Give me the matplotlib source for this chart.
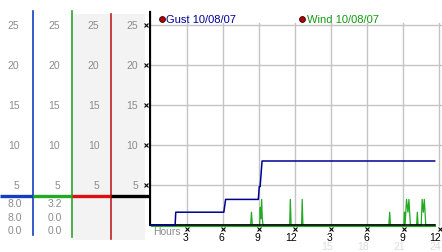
import matplotlib
matplotlib.use("Agg")
import matplotlib.pyplot as plt
from matplotlib.patches import Rectangle

# ---------------- data ----------------
gust_hours = [0, 2.05, 2.1, 6.1, 6.25, 8.97, 9.05, 9.12, 9.2, 9.28, 23.64]
gust_vals = [0, 0, 1.6, 1.6, 3.2, 3.2, 4.8, 4.8, 6.4, 8.0, 8.0]

wind_hours = [0, 8.33, 8.4, 8.47,
              9.08, 9.13, 9.18, 9.25, 9.3, 9.36,
              11.58, 11.63, 11.7, 12.57, 12.62, 12.68,
              19.83, 19.9, 19.96,
              21.08, 21.13, 21.18, 21.3, 21.42, 21.5, 21.62,
              22.14, 22.2, 22.26, 22.52, 22.6, 22.7, 22.78, 22.9, 23.64]
wind_vals = [0, 0, 1.6, 0,
             0, 2.2, 0.8, 3.2, 0.8, 0,
             0, 3.2, 0, 0, 3.2, 0,
             0, 1.6, 0,
             0, 1.6, 0, 3.2, 1.6, 3.2, 0,
             0, 1.6, 0, 0, 3.2, 1.6, 3.2, 0, 0]

y_ticks = [5, 10, 15, 20, 25]
x_ticks = [3, 6, 9, 12, 15, 18, 21, 24]
x_tick_labels = ["3", "6", "9", "12", "3", "6", "9", "12"]
x_faint_ticks = [15, 18, 21, 24]
x_faint_labels = ["15", "18", "21", "24"]

gust_legend = "Gust 10/08/07"
wind_legend = "Wind 10/08/07"
gust_stats = ["8.0", "8.0", "0.0"]
wind_stats = ["3.2", "0.0", "0.0"]

# ---------------- figure ----------------
W, H = 442, 253
fig = plt.figure(figsize=(W / 100, H / 100), dpi=100)
fig.patch.set_facecolor("white")
FONT = "Liberation Sans"

# value v <-> pixel row p : v = (226 - p) / 8
ylo, yhi = (226 - 253) / 8, 226 / 8
grid_c = "#c4c4c4"
lab_c = "#8c8c8c"

# ---------- main plot axes ----------
x0h = (149 - 150.5) / 12.02
x1h = (442 - 150.5) / 12.02
ax = fig.add_axes([149 / W, 0, (W - 149) / W, 1])
ax.set_xlim(x0h, x1h)
ax.set_ylim(ylo, yhi)
ax.axis("off")

for yv in y_ticks:
    ax.plot([0, x1h], [yv, yv], color=grid_c, lw=1, zorder=1)
for xv in x_ticks:
    ax.plot([xv, xv], [0, 25.3], color=grid_c, lw=1, zorder=1)

# left black axis line
ax.plot([x0h + 0.05, x0h + 0.05], [0, (226 - 13) / 8], color="black", lw=1.6, zorder=3)

ax.plot(wind_hours, wind_vals, color="#22aa22", lw=0.9, zorder=4)
ax.plot([0, 23.64], [0.02, 0.02], color="black", lw=1.2, zorder=4)
ax.plot([0, 23.64], [-0.15, -0.15], color="#22aa22", lw=0.8, zorder=4)
ax.plot(gust_hours, gust_vals, color="#000090", lw=1.1, zorder=5)

# x tick marks and labels
for xv, lab in zip(x_ticks, x_tick_labels):
    ax.plot([xv + 0.05], [-0.45], marker="x", ms=2.2, mew=0.8, color="black", clip_on=False)
    ax.text(xv + 0.17, -1.5, lab, ha="right", va="center", fontsize=7.5,
            family=FONT, color="black")
for xv, lab in zip(x_faint_ticks, x_faint_labels):
    ax.text(xv + 0.2, -2.6, lab, ha="right", va="center", fontsize=7.5,
            family=FONT, color="#dcdcdc")
ax.text(0.2, -0.8, "Hours", ha="left", va="center", fontsize=7.5,
        family=FONT, color=lab_c)

# legend
ax.plot([0.97], [25.75], marker="o", ms=4.2, mfc="#b00000", mec="#300000", mew=0.6)
ax.text(1.3, 25.75, gust_legend, ha="left", va="center", fontsize=8,
        family=FONT, color="#000099")
ax.plot([12.62], [25.75], marker="o", ms=4.2, mfc="#b00000", mec="#300000", mew=0.6)
ax.text(13.0, 25.75, wind_legend, ha="left", va="center", fontsize=8,
        family=FONT, color="#119911")

# ---------- left panels ----------
lax = fig.add_axes([0, 0, 149 / W, 1])
lax.set_xlim(0, 149)
lax.set_ylim(ylo, yhi)
lax.axis("off")

lax.add_patch(Rectangle((72, (226 - 241) / 8), 73, (241 - 15) / 8,
                        facecolor="#f3f3f3", edgecolor="none", zorder=0))

col_right = [19.5, 60, 99.5, 138]
for xr in col_right:
    for yv in y_ticks:
        lax.text(xr, yv, str(yv), ha="right", va="center", fontsize=7.5,
                 family=FONT, color=lab_c)
for yv in y_ticks:
    lax.plot([146], [yv], marker="x", ms=2.2, mew=0.8, color="black")

lax.plot([33, 33], [(226 - 12) / 8, (226 - 236) / 8], color="#1040c0", lw=1.2)
lax.plot([72, 72], [(226 - 12) / 8, (226 - 238) / 8], color="#30a030", lw=1.2)
lax.plot([111, 111], [(226 - 15) / 8, (226 - 240) / 8], color="#c02020", lw=1.2)

sep = (226 - 197) / 8
lax.plot([0, 33], [sep, sep], color="#1040c0", lw=2.4, solid_capstyle="butt")
lax.plot([33, 72], [sep, sep], color="#22aa22", lw=2.4, solid_capstyle="butt")
lax.plot([72, 111], [sep, sep], color="#dd1010", lw=2.4, solid_capstyle="butt")
lax.plot([111, 149], [sep, sep], color="black", lw=2.4, solid_capstyle="butt")

stat_y = [(226 - 204.5) / 8, (226 - 218) / 8, (226 - 231.5) / 8]
for yv, s in zip(stat_y, gust_stats):
    lax.text(22, yv, s, ha="right", va="center", fontsize=7.5, family=FONT, color=lab_c)
for yv, s in zip(stat_y, wind_stats):
    lax.text(62, yv, s, ha="right", va="center", fontsize=7.5, family=FONT, color=lab_c)

fig.savefig("out.png", dpi=100)
